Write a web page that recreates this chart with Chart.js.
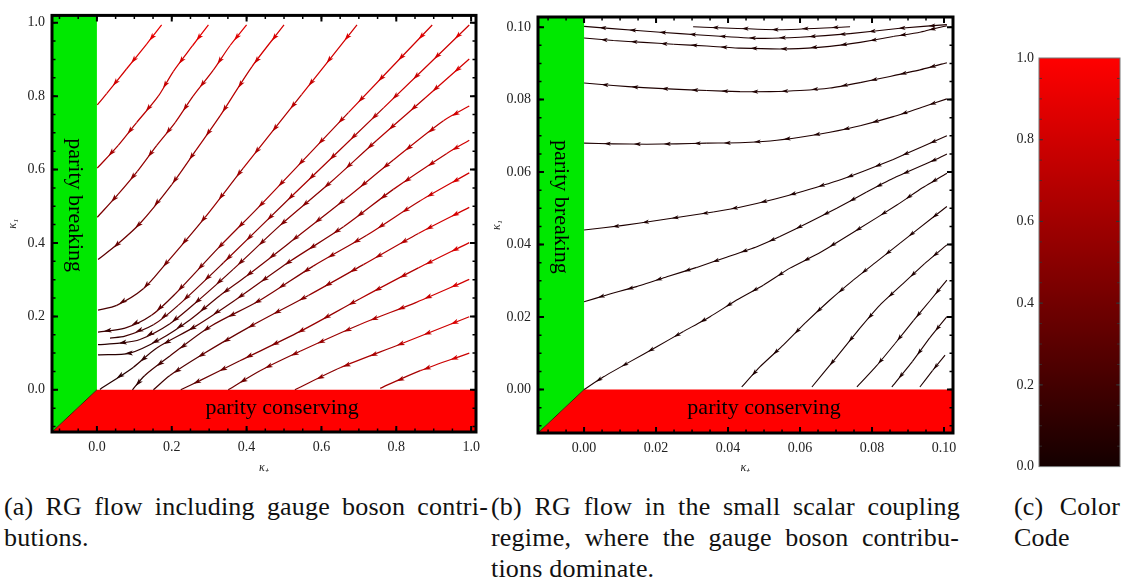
<!DOCTYPE html>
<html>
<head>
<meta charset="utf-8">
<script src="https://cdn.jsdelivr.net/npm/chart.js@4.4.1/dist/chart.umd.min.js"></script>
<style>
  body { margin: 0; background: #fff; }
  #page { position: relative; width: 1124px; height: 581px; overflow: hidden; background: #fff; font-family: "Liberation Serif", "DejaVu Serif", serif; }
  .panel { position: absolute; }
  .cap { position: absolute; font-size: 26px; line-height: 31px; letter-spacing: 0.2px; white-space: nowrap; color: #111; }
  .full { text-align: justify; text-align-last: justify; }
</style>
</head>
<body>
<div id="page">
  <div class="panel" style="left:0px; top:0px; width:490px; height:475px;"><canvas id="flowA"></canvas></div>
  <div class="panel" style="left:490px; top:0px; width:500px; height:475px;"><canvas id="flowB"></canvas></div>
  <div class="panel" style="left:990px; top:40px; width:134px; height:440px;"><canvas id="colorCode"></canvas></div>

  <div class="cap full" style="left:4px; top:491px; width:484px;">(a) RG flow including gauge boson contri-</div>
  <div class="cap" style="left:4px; top:522px;">butions.</div>
  <div class="cap full" style="left:491px; top:491px; width:469px;">(b) RG flow in the small scalar coupling</div>
  <div class="cap full" style="left:491px; top:522px; width:468px;">regime, where the gauge boson contribu-</div>
  <div class="cap" style="left:491px; top:553px;">tions dominate.</div>
  <div class="cap full" style="left:1014px; top:491px; width:106px;">(c) Color</div>
  <div class="cap" style="left:1014px; top:522px;">Code</div>
</div>

<script>
// ---- data ----
// streamlines of panel (a), each listed in flow direction: [kappa+, kappa1]
const flowLinesA = [
    [[0.173, 0.994], [0.133, 0.942], [0.079, 0.874], [0.026, 0.807], [0.001, 0.776]],
    [[0.298, 0.994], [0.256, 0.938], [0.204, 0.867], [0.164, 0.800], [0.106, 0.728], [0.057, 0.666], [0.001, 0.604]],
    [[0.400, 0.994], [0.356, 0.938], [0.311, 0.871], [0.257, 0.800], [0.209, 0.728], [0.160, 0.666], [0.108, 0.595], [0.057, 0.533], [0.001, 0.470]],
    [[0.500, 0.994], [0.414, 0.880], [0.329, 0.746], [0.265, 0.653], [0.200, 0.559], [0.115, 0.453], [0.053, 0.395], [0.003, 0.355]],
    [[0.695, 0.994], [0.547, 0.804], [0.391, 0.604], [0.289, 0.470], [0.182, 0.341], [0.124, 0.275], [0.053, 0.230], [0.003, 0.217]],
    [[0.896, 0.994], [0.672, 0.755], [0.440, 0.506], [0.324, 0.386], [0.209, 0.261], [0.146, 0.203], [0.075, 0.168], [0.003, 0.157]],
    [[0.995, 0.994], [0.766, 0.768], [0.521, 0.528], [0.338, 0.346], [0.217, 0.230], [0.151, 0.177], [0.075, 0.146], [0.035, 0.141]],
    [[0.995, 0.901], [0.877, 0.795], [0.748, 0.680], [0.623, 0.564], [0.494, 0.452], [0.364, 0.328], [0.275, 0.247], [0.195, 0.180], [0.115, 0.137], [0.061, 0.127], [0.003, 0.123]],
    [[0.995, 0.773], [0.926, 0.733], [0.792, 0.626], [0.663, 0.519], [0.529, 0.412], [0.400, 0.310], [0.329, 0.257], [0.249, 0.191], [0.168, 0.137], [0.088, 0.100], [0.003, 0.095]],
    [[0.995, 0.680], [0.935, 0.644], [0.792, 0.546], [0.659, 0.444], [0.516, 0.350], [0.369, 0.244], [0.262, 0.172], [0.160, 0.114], [0.097, 0.061], [0.008, 0.001]],
    [[0.995, 0.591], [0.864, 0.515], [0.721, 0.421], [0.578, 0.337], [0.436, 0.244], [0.302, 0.172], [0.195, 0.092], [0.128, 0.039], [0.095, 0.000]],
    [[0.995, 0.497], [0.859, 0.426], [0.712, 0.341], [0.565, 0.257], [0.409, 0.172], [0.275, 0.092], [0.195, 0.039], [0.151, 0.000]],
    [[0.995, 0.401], [0.859, 0.332], [0.703, 0.248], [0.543, 0.159], [0.382, 0.079], [0.275, 0.025], [0.224, 0.000]],
    [[0.995, 0.301], [0.855, 0.239], [0.703, 0.178], [0.543, 0.105], [0.436, 0.052], [0.351, 0.000]],
    [[0.995, 0.199], [0.810, 0.124], [0.650, 0.060], [0.529, 0.000]],
    [[0.995, 0.100], [0.864, 0.052], [0.757, 0.004]],
];
// colour code (0..1) at the start and at the end of each line of panel (a)
const shadeA = [
    [0.95, 0.75], [0.95, 0.6], [0.95, 0.42], [0.92, 0.28], [0.92, 0.18], [0.92, 0.12], [0.92, 0.08], [0.92, 0.05],
    [0.92, 0.05], [0.92, 0.04], [0.92, 0.08], [0.92, 0.15], [0.92, 0.25], [0.92, 0.35], [0.92, 0.45], [0.92, 0.55],
];

// streamlines of panel (b), small coupling regime
const flowLinesB = [
    [[0.0739, 0.1001], [0.0544, 0.0993], [0.0303, 0.1001]],
    [[0.1008, 0.1007], [0.0878, 0.0997], [0.0739, 0.0982], [0.0600, 0.0972], [0.0489, 0.0969], [0.0378, 0.0975], [0.0267, 0.0982], [0.0156, 0.0990], [0.0000, 0.1002]],
    [[0.1008, 0.1004], [0.0933, 0.0986], [0.0859, 0.0974], [0.0767, 0.0958], [0.0683, 0.0947], [0.0572, 0.0940], [0.0433, 0.0942], [0.0341, 0.0948], [0.0248, 0.0953], [0.0165, 0.0958], [0.0081, 0.0963], [0.0000, 0.0970]],
    [[0.1008, 0.0902], [0.0933, 0.0882], [0.0850, 0.0864], [0.0767, 0.0847], [0.0683, 0.0832], [0.0600, 0.0825], [0.0517, 0.0822], [0.0433, 0.0822], [0.0341, 0.0825], [0.0248, 0.0829], [0.0165, 0.0833], [0.0081, 0.0839], [0.0000, 0.0846]],
    [[0.1008, 0.0802], [0.0939, 0.0779], [0.0859, 0.0753], [0.0767, 0.0728], [0.0683, 0.0710], [0.0600, 0.0696], [0.0517, 0.0686], [0.0433, 0.0681], [0.0341, 0.0680], [0.0257, 0.0678], [0.0174, 0.0677], [0.0081, 0.0678], [0.0000, 0.0680]],
    [[0.1008, 0.0700], [0.0939, 0.0670], [0.0859, 0.0635], [0.0778, 0.0603], [0.0704, 0.0576], [0.0611, 0.0548], [0.0528, 0.0525], [0.0433, 0.0503], [0.0359, 0.0490], [0.0267, 0.0476], [0.0193, 0.0465], [0.0109, 0.0453], [0.0000, 0.0440]],
    [[0.1008, 0.0650], [0.0975, 0.0634], [0.0859, 0.0583], [0.0785, 0.0545], [0.0702, 0.0500], [0.0628, 0.0463], [0.0544, 0.0422], [0.0480, 0.0394], [0.0396, 0.0365], [0.0313, 0.0337], [0.0230, 0.0311], [0.0146, 0.0284], [0.0063, 0.0261], [0.0000, 0.0242]],
    [[0.1008, 0.0597], [0.0939, 0.0556], [0.0869, 0.0509], [0.0758, 0.0440], [0.0656, 0.0378], [0.0572, 0.0335], [0.0498, 0.0288], [0.0424, 0.0247], [0.0350, 0.0201], [0.0276, 0.0160], [0.0202, 0.0118], [0.0128, 0.0077], [0.0054, 0.0035], [0.0000, 0.0000]],
    [[0.1008, 0.0505], [0.0924, 0.0440], [0.0878, 0.0404], [0.0813, 0.0353], [0.0748, 0.0302], [0.0683, 0.0247], [0.0614, 0.0183], [0.0554, 0.0123], [0.0489, 0.0063], [0.0438, 0.0007]],
    [[0.1008, 0.0399], [0.0947, 0.0348], [0.0887, 0.0293], [0.0822, 0.0233], [0.0767, 0.0170], [0.0702, 0.0090], [0.0633, 0.0007]],
    [[0.1008, 0.0302], [0.0961, 0.0245], [0.0915, 0.0190], [0.0864, 0.0127], [0.0813, 0.0066], [0.0758, 0.0007]],
    [[0.1008, 0.0201], [0.0961, 0.0143], [0.0912, 0.0077], [0.0855, 0.0007]],
    [[0.1003, 0.0095], [0.0968, 0.0052], [0.0933, 0.0007]],
];
const shadeB = flowLinesB.map(() => [0.06, 0.04]);

const ticksA = [0, 0.2, 0.4, 0.6, 0.8, 1.0];
const ticksB = [0, 0.02, 0.04, 0.06, 0.08, 0.1];
const colorbarTicks = [0, 0.2, 0.4, 0.6, 0.8, 1.0];

// ---- helpers ----
function colorOf(v) {
    const r = Math.round(20 + 235 * Math.max(0, Math.min(1, v)));
    return "rgb(" + r + ",0,0)";
}

function streamDatasets(lines, shades, width, tension) {
    return lines.map((pts, i) => {
        const n = pts.length;
        const [s0, s1] = shades[i];
        // the lines darken fast once they leave the edge of the plot
        const at = (f) => colorOf(s0 + (s1 - s0) * Math.pow(f, 0.7));
        return {
            data: pts.map((p) => ({ x: p[0], y: p[1] })),
            showLine: true,
            pointRadius: 0,
            borderWidth: width,
            tension: tension,
            borderColor: at(0),
            segment: { borderColor: (c) => at((c.p0DataIndex + 0.5) / (n - 1)) },
            shadeAt: at,
            order: 0,
        };
    });
}

function regionDatasets(xMin, yMin, xMax, yMax) {
    return [
        {
            // parity breaking band
            data: [{ x: xMin, y: yMin }, { x: 0, y: 0 }, { x: 0, y: yMax }, { x: xMin, y: yMax }, { x: xMin, y: yMin }],
            showLine: true, pointRadius: 0, borderWidth: 0, tension: 0,
            fill: "shape", backgroundColor: "rgb(0,232,0)", order: 10,
        },
        {
            // parity conserving band
            data: [{ x: xMin, y: yMin }, { x: 0, y: 0 }, { x: xMax, y: 0 }, { x: xMax, y: yMin }, { x: xMin, y: yMin }],
            showLine: true, pointRadius: 0, borderWidth: 0, tension: 0,
            fill: "shape", backgroundColor: "rgb(255,0,0)", order: 9,
        },
        {
            data: [{ x: xMin, y: yMin }, { x: 0, y: 0 }],
            showLine: true, pointRadius: 0, borderWidth: 1, tension: 0,
            borderColor: "#3a2a00", order: 8,
        },
    ];
}

function drawArrowHead(ctx, x, y, ang, len, wid, color) {
    ctx.save();
    ctx.translate(x, y);
    ctx.rotate(ang);
    ctx.beginPath();
    ctx.moveTo(len / 2, 0);
    ctx.lineTo(-len / 2, wid / 2);
    ctx.lineTo(-len / 2 + len * 0.25, 0);
    ctx.lineTo(-len / 2, -wid / 2);
    ctx.closePath();
    ctx.fillStyle = color;
    ctx.fill();
    ctx.restore();
}

// arrow heads spaced along each streamline
const flowArrows = {
    id: "flowArrows",
    afterDatasetsDraw(chart, args, opts) {
        const ctx = chart.ctx;
        chart.data.datasets.forEach((ds, i) => {
            if (!ds.shadeAt) return;
            const pts = chart.getDatasetMeta(i).data.map((p) => ({ x: p.x, y: p.y }));
            const segLen = [];
            let total = 0;
            for (let k = 1; k < pts.length; k++) {
                const d = Math.hypot(pts[k].x - pts[k - 1].x, pts[k].y - pts[k - 1].y);
                segLen.push(d);
                total += d;
            }
            let s = opts.offset;
            let k = 0;
            let acc = 0;
            while (s < total - 5) {
                while (k < segLen.length - 1 && acc + segLen[k] < s) {
                    acc += segLen[k];
                    k++;
                }
                const t = (s - acc) / segLen[k];
                const a = pts[k];
                const b = pts[k + 1];
                const x = a.x + (b.x - a.x) * t;
                const y = a.y + (b.y - a.y) * t;
                const ang = Math.atan2(b.y - a.y, b.x - a.x);
                drawArrowHead(ctx, x, y, ang, opts.length, opts.width, ds.shadeAt((k + t) / (pts.length - 1)));
                s += opts.spacing;
            }
        });
    },
};

// text inside the coloured bands
const bandLabels = {
    id: "bandLabels",
    afterDatasetsDraw(chart, args, opts) {
        if (!opts.items) return;
        const { ctx, scales } = chart;
        ctx.save();
        ctx.fillStyle = "#000";
        ctx.font = opts.size + "px 'Liberation Serif', serif";
        ctx.textAlign = "center";
        ctx.textBaseline = "middle";
        opts.items.forEach((it) => {
            ctx.save();
            ctx.translate(scales.x.getPixelForValue(it.x), scales.y.getPixelForValue(it.y));
            ctx.rotate(it.rotate || 0);
            ctx.fillText(it.text, 0, 0);
            ctx.restore();
        });
        ctx.restore();
    },
};

// frame and inward tick marks on all four sides
const frameTicks = {
    id: "frameTicks",
    afterDraw(chart, args, o) {
        const { ctx, chartArea: a } = chart;
        ctx.save();
        ctx.strokeStyle = o.color;
        const marks = (scale, horizontal, step, len, lw) => {
            ctx.lineWidth = lw;
            const i0 = Math.ceil(scale.min / step - 1e-6);
            const i1 = Math.floor(scale.max / step + 1e-6);
            for (let i = i0; i <= i1; i++) {
                const p = scale.getPixelForValue(i * step);
                ctx.beginPath();
                if (horizontal) {
                    if (p < a.left + 2 || p > a.right - 2) continue;
                    ctx.moveTo(p, a.bottom); ctx.lineTo(p, a.bottom - len);
                    ctx.moveTo(p, a.top); ctx.lineTo(p, a.top + len);
                } else {
                    if (p < a.top + 2 || p > a.bottom - 2) continue;
                    ctx.moveTo(a.left, p); ctx.lineTo(a.left + len, p);
                    ctx.moveTo(a.right, p); ctx.lineTo(a.right - len, p);
                }
                ctx.stroke();
            }
        };
        o.axes.forEach((id) => {
            const scale = chart.scales[id];
            const horizontal = id === "x";
            marks(scale, horizontal, o.minor, o.minorLen, o.minorWidth);
            marks(scale, horizontal, o.major, o.majorLen, o.majorWidth);
        });
        ctx.lineWidth = o.frameWidth;
        ctx.strokeStyle = o.frameColor;
        ctx.strokeRect(a.left, a.top, a.right - a.left, a.bottom - a.top);
        ctx.restore();
    },
};

const tickFont = { family: "'Liberation Serif', serif", size: 14 };
const titleFont = { family: "'Liberation Serif', serif", size: 12, style: "italic" };

function flowScales(range, ticks, digits, yWidth, xHeight, yTitlePad) {
    const common = {
        type: "linear",
        grid: { display: false, drawTicks: false },
        border: { display: false },
    };
    return {
        x: {
            ...common,
            min: range[0], max: range[1],
            afterBuildTicks: (s) => { s.ticks = ticks.map((v) => ({ value: v })); },
            afterFit: (s) => { s.height = xHeight; },
            ticks: { padding: 7, color: "#222", font: tickFont, maxRotation: 0, autoSkip: false, callback: (v) => v.toFixed(digits) },
            title: { display: true, text: "κ₊", color: "#222", font: titleFont, padding: 0 },
        },
        y: {
            ...common,
            min: range[2], max: range[3],
            afterBuildTicks: (s) => { s.ticks = ticks.map((v) => ({ value: v })); },
            afterFit: (s) => { s.width = yWidth; },
            ticks: { padding: 7, color: "#222", font: tickFont, autoSkip: false, callback: (v) => v.toFixed(digits) },
            title: { display: true, text: "κ₁", color: "#222", font: titleFont, padding: { top: yTitlePad, bottom: 0 } },
        },
    };
}

// ---- panel (a) ----
const rangeA = [-0.12, 1.013, -0.115, 1.02];
new Chart(document.getElementById("flowA"), {
    type: "scatter",
    data: {
        datasets: [
            ...streamDatasets(flowLinesA, shadeA, 1.25, 0.3),
            ...regionDatasets(rangeA[0], rangeA[2], rangeA[1], rangeA[3]),
        ],
    },
    options: {
        responsive: true,
        maintainAspectRatio: false,
        animation: false,
        layout: { padding: { top: 8, right: 14, left: 0, bottom: 0 } },
        scales: flowScales(rangeA, ticksA, 1, 52, 43, 6),
        plugins: {
            legend: { display: false },
            tooltip: { enabled: false },
            flowArrows: { spacing: 29, offset: 16, length: 8, width: 5 },
            bandLabels: {
                size: 22,
                items: [
                    { text: "parity breaking", x: -0.06, y: 0.503, rotate: Math.PI / 2 },
                    { text: "parity conserving", x: 0.495, y: -0.05 },
                ],
            },
            frameTicks: {
                axes: ["x", "y"], major: 0.2, minor: 0.05, majorLen: 6, minorLen: 3.5,
                majorWidth: 2, minorWidth: 1.5, color: "#000", frameWidth: 3, frameColor: "#000",
            },
        },
    },
    plugins: [flowArrows, bandLabels, frameTicks],
});

// ---- panel (b) ----
const rangeB = [-0.0128, 0.1025, -0.012, 0.1028];
new Chart(document.getElementById("flowB"), {
    type: "scatter",
    data: {
        datasets: [
            ...streamDatasets(flowLinesB, shadeB, 1.1, 0.15),
            ...regionDatasets(rangeB[0], rangeB[2], rangeB[1], rangeB[3]),
        ],
    },
    options: {
        responsive: true,
        maintainAspectRatio: false,
        animation: false,
        layout: { padding: { top: 17, right: 37, left: 0, bottom: 0 } },
        scales: flowScales(rangeB, ticksB, 2, 48, 42, 0),
        plugins: {
            legend: { display: false },
            tooltip: { enabled: false },
            flowArrows: { spacing: 30, offset: 15, length: 7, width: 4.2 },
            bandLabels: {
                size: 22,
                items: [
                    { text: "parity breaking", x: -0.0064, y: 0.0504, rotate: Math.PI / 2 },
                    { text: "parity conserving", x: 0.05, y: -0.0051 },
                ],
            },
            frameTicks: {
                axes: ["x", "y"], major: 0.02, minor: 0.005, majorLen: 6, minorLen: 3.5,
                majorWidth: 2, minorWidth: 1.5, color: "#000", frameWidth: 3, frameColor: "#000",
            },
        },
    },
    plugins: [flowArrows, bandLabels, frameTicks],
});

// ---- panel (c): colour code ----
new Chart(document.getElementById("colorCode"), {
    type: "bar",
    data: {
        labels: [""],
        datasets: [{
            data: [[0, 1]],
            barPercentage: 1,
            categoryPercentage: 1,
            borderWidth: 0,
            backgroundColor: (c) => {
                const area = c.chart.chartArea;
                if (!area) return colorOf(0.5);
                const g = c.chart.ctx.createLinearGradient(0, area.bottom, 0, area.top);
                colorbarTicks.forEach((v) => g.addColorStop(v, colorOf(v)));
                return g;
            },
        }],
    },
    options: {
        responsive: true,
        maintainAspectRatio: false,
        animation: false,
        layout: { padding: { top: 18, right: 4, left: 0, bottom: 12 } },
        scales: {
            x: { display: false },
            y: {
                min: 0, max: 1,
                grid: { display: false, drawTicks: false },
                border: { display: false },
                afterBuildTicks: (s) => { s.ticks = colorbarTicks.map((v) => ({ value: v })); },
                afterFit: (s) => { s.width = 49; },
                ticks: { padding: 5, color: "#222", font: tickFont, callback: (v) => v.toFixed(1) },
            },
        },
        plugins: {
            legend: { display: false },
            tooltip: { enabled: false },
            frameTicks: {
                axes: ["y"], major: 0.2, minor: 0.05, majorLen: 4, minorLen: 3,
                majorWidth: 1, minorWidth: 0.8, color: "#333", frameWidth: 1, frameColor: "#777",
            },
        },
    },
    plugins: [frameTicks],
});
</script>
</body>
</html>
